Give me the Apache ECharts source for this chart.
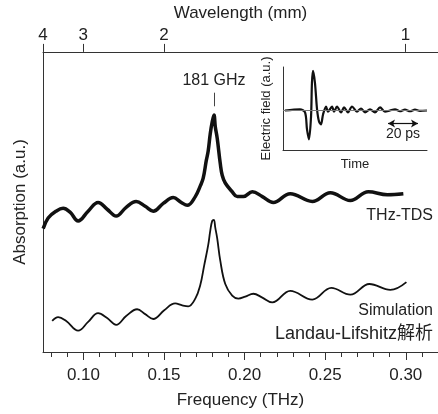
<!DOCTYPE html>
<html>
<head>
<meta charset="utf-8">
<script src="https://cdn.jsdelivr.net/npm/echarts@6/dist/echarts.min.js"></script>
<style>
  html, body { margin: 0; padding: 0; background: #fff; }
  #main { width: 438px; height: 414px; }
</style>
</head>
<body>
<div id="main"></div>
<script>
// THz-TDS measured absorption (thick line)
const tdsFreq = [0.0750, 0.0781, 0.0830, 0.0874, 0.0917, 0.0967, 0.1029, 0.1091, 0.1147, 0.1203,
  0.1265, 0.1327, 0.1383, 0.1433, 0.1495, 0.1557, 0.1607, 0.1644, 0.1694, 0.1725, 0.1743, 0.1762,
  0.1774, 0.1787, 0.1799, 0.1810, 0.1818, 0.1830, 0.1849, 0.1861, 0.1880, 0.1923, 0.1954, 0.1992,
  0.2048, 0.2110, 0.2178, 0.2283, 0.2420, 0.2532, 0.2656, 0.2768, 0.2886, 0.2985];
const tdsAbs = [127, 138, 145, 148, 144, 135, 145, 154, 147, 140,
  149, 155, 150, 145, 153, 159, 154, 151, 160, 171, 179, 197,
  207, 225, 237, 244, 232, 220, 194, 182, 174, 165, 160, 160,
  165, 160, 154, 163, 155, 164, 156, 165, 162, 163];

// Landau-Lifshitz simulation (thin line)
const simFreq = [0.0806, 0.0843, 0.0893, 0.0967, 0.1029, 0.1091, 0.1147, 0.1203, 0.1265, 0.1333,
  0.1383, 0.1433, 0.1501, 0.1569, 0.1613, 0.1650, 0.1694, 0.1725, 0.1749, 0.1774, 0.1787, 0.1799,
  0.1809, 0.1818, 0.1830, 0.1849, 0.1880, 0.1923, 0.1961, 0.2004, 0.2054, 0.2110, 0.2172, 0.2283,
  0.2420, 0.2538, 0.2656, 0.2774, 0.2904, 0.3004];
const simAbs = [32, 36, 32, 22, 31, 40, 35, 28, 37, 44,
  39, 34, 43, 50, 48, 47, 55, 69, 89, 110, 125, 135,
  136, 128, 117, 94, 70, 58, 55, 57, 60, 56, 51, 63,
  54, 66, 59, 70, 64, 72];

// inset: time-domain electric field
const pulseTime = [1.3, 11.3, 14.7, 16, 17.3, 18.7, 19.3, 20, 21.3, 22.7, 24, 25.3, 26.7, 28.7,
  30, 32.7, 34, 36, 38.7, 40.7, 43.3, 46, 49.3, 52, 54.7, 58, 61.3, 64.7, 68, 71.3, 74.7, 78,
  81.3, 84.7, 88, 91.3, 96];
const pulseField = [0, 0.03, -0.05, -0.48, -0.73, -0.15, 0.7, 1.0, 0.7, 0.03, -0.28, -0.35, -0.1, 0.1,
  -0.03, 0.1, -0.03, 0.1, -0.05, 0.08, -0.05, 0.1, -0.03, 0.05, -0.05, 0.03, -0.05, 0.08,
  -0.03, 0, 0.03, -0.02, 0.02, -0.02, 0.02, -0.01, 0];

// axis ticks
const freqTicks = [0.10, 0.15, 0.20, 0.25, 0.30];
const wavelengthTicks = [4, 3, 2, 1];
const peakFreq = 0.181;
const scaleBar = [70, 90]; // 20 ps

const C_MM_THZ = 0.2998;
const fMin = 0.0749, fMax = 0.32;
const minorTicks = [];
for (let i = 8; i <= 32; i++) minorTicks.push(i / 100);
const wlPos = wavelengthTicks.map(w => C_MM_THZ / w);

const FONT = '"Liberation Sans", Arial, "Noto Sans CJK SC", sans-serif';
const INK = '#222';

const zip = (a, b) => a.map((v, i) => [v, b[i]]);

const chart = echarts.init(document.getElementById('main'));
chart.setOption({
  animation: false,
  textStyle: { fontFamily: FONT, color: INK },
  grid: [
    { left: 43, right: 0, top: 48, bottom: 57 },
    { left: 283, top: 67, width: 144, height: 83 }
  ],
  xAxis: [
    {
      type: 'value', gridIndex: 0, position: 'bottom', min: fMin, max: fMax,
      axisLine: { onZero: false, lineStyle: { color: '#333', width: 1 } },
      axisTick: { customValues: freqTicks, length: 8, lineStyle: { color: '#333' } },
      axisLabel: { customValues: freqTicks, formatter: v => v.toFixed(2), fontSize: 17, color: INK, margin: 15, fontFamily: FONT },
      splitLine: { show: false },
      name: 'Frequency (THz)', nameLocation: 'middle', nameGap: 40,
      nameTextStyle: { fontSize: 17, color: INK, fontFamily: FONT }
    },
    {
      type: 'value', gridIndex: 0, position: 'bottom', min: fMin, max: fMax,
      axisLine: { show: false, onZero: false },
      axisTick: { customValues: minorTicks, length: 5, lineStyle: { color: '#333' } },
      axisLabel: { show: false },
      splitLine: { show: false }
    },
    {
      type: 'value', gridIndex: 0, position: 'top', min: fMin, max: fMax,
      axisLine: { onZero: false, lineStyle: { color: '#333', width: 1 } },
      axisTick: { customValues: wlPos, length: 8, lineStyle: { color: '#333' } },
      axisLabel: { customValues: wlPos, formatter: v => String(Math.round(C_MM_THZ / v)), fontSize: 17, color: INK, margin: 8, fontFamily: FONT },
      splitLine: { show: false },
      name: 'Wavelength (mm)', nameLocation: 'middle', nameGap: 27,
      nameTextStyle: { fontSize: 17, color: INK, fontFamily: FONT }
    },
    {
      type: 'value', gridIndex: 1, min: 0, max: 96,
      axisLine: { onZero: false, lineStyle: { color: '#333', width: 1 } },
      axisTick: { show: false }, axisLabel: { show: false }, splitLine: { show: false },
      name: 'Time', nameLocation: 'middle', nameGap: 8,
      nameTextStyle: { fontSize: 13, color: INK, fontFamily: FONT }
    }
  ],
  yAxis: [
    {
      type: 'value', gridIndex: 0, min: 0, max: 309,
      axisLine: { show: true, onZero: false, lineStyle: { color: '#333', width: 1 } },
      axisTick: { show: false }, axisLabel: { show: false }, splitLine: { show: false },
      name: 'Absorption (a.u.)', nameLocation: 'middle', nameGap: 14, nameRotate: 90,
      nameTextStyle: { fontSize: 17, color: INK, fontFamily: FONT }
    },
    {
      type: 'value', gridIndex: 1, min: -1, max: 1.1,
      axisLine: { show: true, onZero: false, lineStyle: { color: '#333', width: 1 } },
      axisTick: { show: false }, axisLabel: { show: false }, splitLine: { show: false },
      name: 'Electric field (a.u.)', nameLocation: 'middle', nameGap: 10, nameRotate: 90,
      nameTextStyle: { fontSize: 13, color: INK, fontFamily: FONT }
    }
  ],
  series: [
    {
      name: 'THz-TDS', type: 'line', xAxisIndex: 0, yAxisIndex: 0,
      data: zip(tdsFreq, tdsAbs), smooth: 0.4, showSymbol: false,
      lineStyle: { color: '#111', width: 3.5 },
      markLine: {
        silent: true, symbol: ['none', 'none'],
        lineStyle: { color: '#444', width: 1, type: 'solid' },
        label: { show: true, position: 'end', formatter: '181 GHz', fontSize: 16, color: INK, fontFamily: FONT, distance: 4 },
        data: [[{ coord: [peakFreq, 253] }, { coord: [peakFreq, 267] }]]
      }
    },
    {
      name: 'Simulation', type: 'line', xAxisIndex: 0, yAxisIndex: 0,
      data: zip(simFreq, simAbs), smooth: 0.4, showSymbol: false,
      lineStyle: { color: '#111', width: 1.8 }
    },
    {
      name: 'pulse', type: 'line', xAxisIndex: 3, yAxisIndex: 1,
      data: zip(pulseTime, pulseField), smooth: 0.3, showSymbol: false,
      lineStyle: { color: '#111', width: 2.2 },
      markLine: {
        silent: true, symbol: ['none', 'none'],
        lineStyle: { color: '#777', width: 1, type: 'solid' },
        label: { show: false },
        data: [{ yAxis: 0 }]
      }
    },
    {
      name: 'scale', type: 'line', xAxisIndex: 3, yAxisIndex: 1, data: [],
      markLine: {
        silent: true, symbol: ['arrow', 'arrow'], symbolSize: [6, 7],
        lineStyle: { color: '#111', width: 1.2, type: 'solid' },
        label: { show: true, position: 'insideMiddleBottom', formatter: '20 ps', fontSize: 14, color: INK, fontFamily: FONT, distance: 4 },
        data: [[{ coord: [scaleBar[0], -0.33] }, { coord: [scaleBar[1], -0.33] }]]
      }
    }
  ],
  graphic: [
    { type: 'text', right: 5, top: 208, style: { text: 'THz-TDS', font: '16px ' + FONT, fill: INK } },
    { type: 'text', right: 5, top: 303, style: { text: 'Simulation', font: '16px ' + FONT, fill: INK } },
    { type: 'text', right: 5, top: 325, style: { text: 'Landau-Lifshitz解析', font: '18px ' + FONT, fill: INK } }
  ]
});
</script>
</body>
</html>
